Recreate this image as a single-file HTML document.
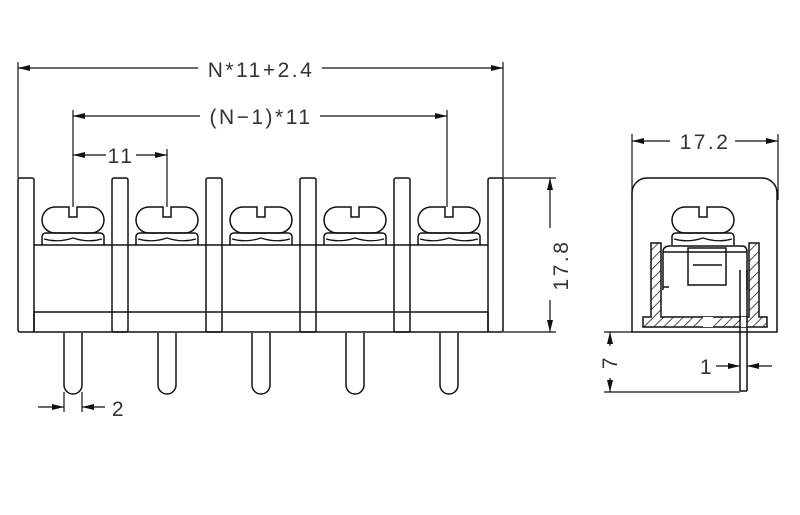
<!DOCTYPE html>
<html><head><style>html,body{margin:0;padding:0;background:#fff}svg{display:block}</style></head>
<body>
<svg width="800" height="515" viewBox="0 0 800 515" xmlns="http://www.w3.org/2000/svg">
<defs>
<marker id="a" viewBox="0 0 12 6" refX="12" refY="3" markerWidth="12" markerHeight="6" orient="auto-start-reverse" markerUnits="userSpaceOnUse"><path d="M0,0L12,3L0,6z" fill="#111"/></marker>
<pattern id="h" width="7" height="7" patternUnits="userSpaceOnUse" patternTransform="rotate(45)"><line x1="0" y1="0" x2="0" y2="7" stroke="#222" stroke-width="1.6"/></pattern>
<g id="scr">
<path d="M-18,-13 H-4 V-3 H4 V-13 H18 A13 13 0 0 1 18,13 H-18 A13 13 0 0 1 -18,-13Z" fill="#fff" stroke="#111" stroke-width="1.5"/>
<path d="M-31,25 V16 Q-30,13 -27,13 H27 Q30,13 31,16 V25" fill="none" stroke="#111" stroke-width="1.5"/>
<path d="M-29,19 Q-15,23 0,18 Q15,23 29,19" fill="none" stroke="#111" stroke-width="1.2"/>
</g>
<g id="pin"><path d="M-9,0 V52 A9 9 0 0 0 9,52 V0" fill="#fff" stroke="#111" stroke-width="1.5"/></g>
</defs>
<g stroke="#111" stroke-width="1.5" fill="none">
<line x1="34" y1="245" x2="488" y2="245"/>
<rect x="34" y="312" width="454" height="20"/>
<rect x="18" y="178" width="16" height="154" rx="2"/>
<rect x="112" y="178" width="16" height="154" rx="2"/>
<rect x="206" y="178" width="16" height="154" rx="2"/>
<rect x="300" y="178" width="16" height="154" rx="2"/>
<rect x="394" y="178" width="16" height="154" rx="2"/>
<rect x="488" y="178" width="15" height="154" rx="2"/>
</g>
<use href="#scr" x="73" y="220"/><use href="#scr" x="167" y="220"/><use href="#scr" x="261" y="220"/><use href="#scr" x="355" y="220"/><use href="#scr" x="449" y="220"/>
<use href="#pin" x="73" y="333"/><use href="#pin" x="167" y="333"/><use href="#pin" x="261" y="333"/><use href="#pin" x="355" y="333"/><use href="#pin" x="449" y="333"/>
<g stroke="#111" stroke-width="1.2" fill="none">
<line x1="18" y1="62" x2="18" y2="178"/><line x1="503" y1="62" x2="503" y2="178"/>
<line x1="18" y1="68" x2="198" y2="68" marker-start="url(#a)"/><line x1="322" y1="68" x2="503" y2="68" marker-end="url(#a)"/>
<line x1="73" y1="110" x2="73" y2="207"/><line x1="447" y1="110" x2="447" y2="207"/>
<line x1="73" y1="116" x2="200" y2="116" marker-start="url(#a)"/><line x1="320" y1="116" x2="447" y2="116" marker-end="url(#a)"/>
<line x1="167" y1="149" x2="167" y2="207"/>
<line x1="73" y1="155" x2="106" y2="155" marker-start="url(#a)"/><line x1="136" y1="155" x2="167" y2="155" marker-end="url(#a)"/>
<line x1="503" y1="178" x2="556" y2="178"/><line x1="503" y1="332" x2="556" y2="332"/>
<line x1="550" y1="178" x2="550" y2="228" marker-start="url(#a)"/><line x1="550" y1="300" x2="550" y2="332" marker-end="url(#a)"/>
<line x1="64" y1="392" x2="64" y2="412"/><line x1="82" y1="392" x2="82" y2="412"/>
<line x1="38" y1="407" x2="64" y2="407" marker-end="url(#a)"/><line x1="105" y1="407" x2="82" y2="407" marker-end="url(#a)"/>
<line x1="632" y1="134" x2="632" y2="200"/><line x1="778" y1="134" x2="778" y2="200"/>
<line x1="632" y1="141" x2="670" y2="141" marker-start="url(#a)"/><line x1="735" y1="141" x2="778" y2="141" marker-end="url(#a)"/>
</g>
<g stroke="#111" stroke-width="1.5" fill="none">
<path d="M632,332 V193 A15 15 0 0 1 647,178 H762 A15 15 0 0 1 777,193 V332 Z" fill="#fff"/>
<path d="M651,243 H661 V317 H749 V243 H759 V317 H767 V327 H643 V317 H651 Z" fill="url(#h)"/>
<rect x="741" y="317" width="6" height="10" fill="#fff" stroke="none"/>
<rect x="703" y="317" width="10" height="10" fill="#fff" stroke="none"/>
<path d="M663,290 V252 Q663,246 670,246 H742 Q747,246 747,252 V290"/>
<line x1="663" y1="252" x2="747" y2="252"/>
<line x1="663" y1="287" x2="669" y2="287"/>
<rect x="688" y="248" width="38" height="37"/>
<line x1="693" y1="265" x2="722" y2="265"/>
<line x1="740" y1="270" x2="740" y2="391"/><line x1="747" y1="270" x2="747" y2="391"/><line x1="740" y1="391" x2="747" y2="391"/>
</g>
<use href="#scr" x="703" y="220"/>
<g stroke="#111" stroke-width="1.2" fill="none">
<line x1="604" y1="332" x2="632" y2="332"/><line x1="604" y1="392" x2="740" y2="392"/>
<line x1="610" y1="332" x2="610" y2="346" marker-start="url(#a)"/><line x1="610" y1="378" x2="610" y2="392" marker-end="url(#a)"/>
<line x1="716" y1="366" x2="740" y2="366" marker-end="url(#a)"/><line x1="772" y1="366" x2="747" y2="366" marker-end="url(#a)"/>
</g>
<g font-family="Liberation Sans, sans-serif" font-size="21" fill="#333" text-anchor="middle" letter-spacing="2.5">
<text x="261" y="77">N*11+2.4</text>
<text x="261" y="124">(N−1)*11</text>
<text x="121" y="163">11</text>
<text x="119" y="416">2</text>
<text x="705" y="149">17.2</text>
<text x="707" y="374">1</text>
<text transform="translate(568,265) rotate(-90)">17.8</text>
<text transform="translate(617,362) rotate(-90)">7</text>
</g>
</svg>
</body></html>
